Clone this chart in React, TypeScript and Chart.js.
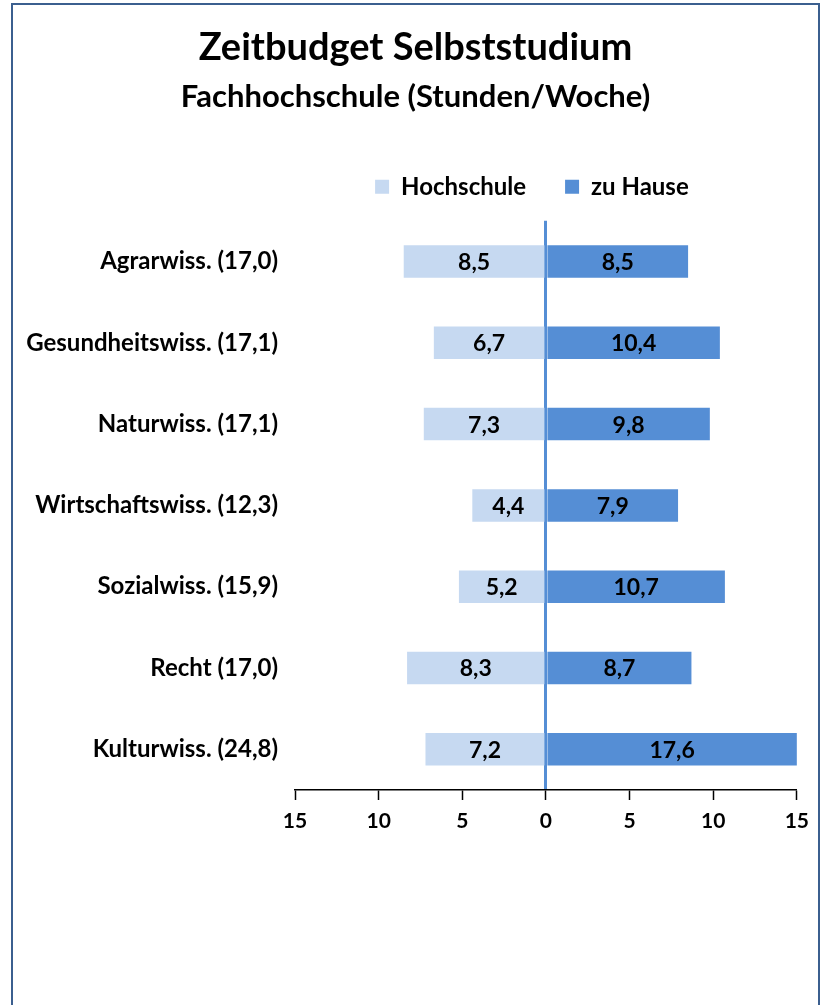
import React, { useEffect, useRef } from "react";
import { Chart, registerables } from "chart.js";

Chart.register(...registerables);

const categories = [
  "Agrarwiss. (17,0)",
  "Gesundheitswiss. (17,1)",
  "Naturwiss. (17,1)",
  "Wirtschaftswiss. (12,3)",
  "Sozialwiss. (15,9)",
  "Recht (17,0)",
  "Kulturwiss. (24,8)",
];
const hochschule = [8.5, 6.7, 7.3, 4.4, 5.2, 8.3, 7.2];
const zuHause = [8.5, 10.4, 9.8, 7.9, 10.7, 8.7, 17.6];
const seriesNames = ["Hochschule", "zu Hause"];
const xTicks = [-15, -10, -5, 0, 5, 10, 15];

const FONT = "Lato";
const LIGHT = "#c6d9f1";
const DARK = "#558ed5";

const valueLabels = {
  id: "valueLabels",
  afterDatasetsDraw(chart: any) {
    const ctx = chart.ctx;
    const area = chart.chartArea;
    ctx.save();
    ctx.font = `bold 23px ${FONT}`;
    ctx.fillStyle = "#000";
    ctx.textAlign = "center";
    ctx.textBaseline = "middle";
    chart.data.datasets.forEach((ds: any, di: number) => {
      const meta = chart.getDatasetMeta(di);
      meta.data.forEach((el: any, i: number) => {
        const a = Math.max(area.left, Math.min(area.right, el.x));
        const b = Math.max(area.left, Math.min(area.right, el.base));
        const v = Math.abs(ds.data[i]);
        ctx.fillText(v.toFixed(1).replace(".", ","), (a + b) / 2, el.y + 1);
      });
    });
    ctx.restore();
  },
};

const legendShift = {
  id: "legendShift",
  afterLayout(chart: any) {
    if (chart.legend) {
      chart.legend.left -= 14;
      chart.legend.right -= 14;
    }
  },
};

export default function App() {
  const ref = useRef<HTMLCanvasElement>(null);
  useEffect(() => {
    if (!ref.current) return;
    const chart = new Chart(ref.current, {
      type: "bar",
      data: {
        labels: categories,
        datasets: [
          {
            label: seriesNames[0],
            data: hochschule.map((v) => -v),
            backgroundColor: LIGHT,
            barPercentage: 0.4,
            categoryPercentage: 1,
          },
          {
            label: seriesNames[1],
            data: zuHause,
            backgroundColor: DARK,
            barPercentage: 0.4,
            categoryPercentage: 1,
          },
        ],
      },
      options: {
        indexAxis: "y",
        responsive: false,
        animation: false,
        layout: { padding: { left: 0, right: 0, top: 0, bottom: 171 } },
        plugins: {
          title: {
            display: true,
            text: "Zeitbudget Selbststudium",
            color: "#000",
            font: { family: FONT, size: 38, weight: "bold" },
            padding: { top: 20, bottom: 0 },
          },
          subtitle: {
            display: true,
            text: "Fachhochschule (Stunden/Woche)",
            color: "#000",
            font: { family: FONT, size: 31, weight: "bold" },
            padding: { top: 8, bottom: 20 },
          },
          legend: {
            display: true,
            position: "top",
            fullSize: false,
            labels: {
              boxWidth: 14,
              boxHeight: 14,
              padding: 39,
              color: "#000",
              font: { family: FONT, size: 24, weight: "bold" },
            },
          },
          tooltip: { enabled: false },
        },
        scales: {
          x: {
            type: "linear",
            stacked: true,
            min: -15,
            max: 15,
            z: 1,
            afterBuildTicks(scale: any) {
              scale.ticks = xTicks.map((v) => ({ value: v }));
            },
            afterFit(scale: any) {
              scale.height = 44;
            },
            ticks: {
              color: "#000",
              padding: 9,
              font: { family: FONT, size: 21, weight: "bold" },
              callback: (v: any) => String(Math.abs(Number(v))),
              maxRotation: 0,
            },
            grid: {
              color: (c: any) => (c.tick && c.tick.value === 0 ? DARK : "rgba(0,0,0,0)"),
              lineWidth: (c: any) => (c.tick && c.tick.value === 0 ? 3 : 1),
              tickColor: "#000",
              tickWidth: 1.5,
              tickLength: 10,
              drawTicks: true,
            },
            border: { display: true, color: "#000", width: 1.5 },
          },
          x2: {
            type: "linear",
            position: "top",
            display: true,
            min: -15,
            max: 15,
            grid: { display: false, drawTicks: false },
            ticks: { display: false },
            border: { display: false },
            afterFit(scale: any) {
              scale.height = 12;
            },
          },
          y: {
            stacked: true,
            grid: { display: false, drawTicks: false },
            border: { display: false },
            ticks: {
              color: "#000",
              padding: 17,
              font: { family: FONT, size: 24, weight: "bold" },
            },
            afterFit(scale: any) {
              scale.width = 282;
            },
          },
          y2: {
            type: "linear",
            position: "right",
            display: true,
            min: 0,
            max: 1,
            grid: { display: false, drawTicks: false },
            ticks: { display: false },
            border: { display: false },
            afterFit(scale: any) {
              scale.width = 21;
            },
          },
        },
      },
      plugins: [valueLabels, legendShift],
    });
    return () => chart.destroy();
  }, []);

  return (
    <div
      style={{
        position: "absolute",
        left: 11,
        top: 3,
        width: 809,
        height: 1010,
        border: "2px solid #3b5f8f",
        boxSizing: "border-box",
        background: "#fff",
      }}
    >
      <canvas ref={ref} width={805} height={1000} style={{ display: "block" }} />
    </div>
  );
}
